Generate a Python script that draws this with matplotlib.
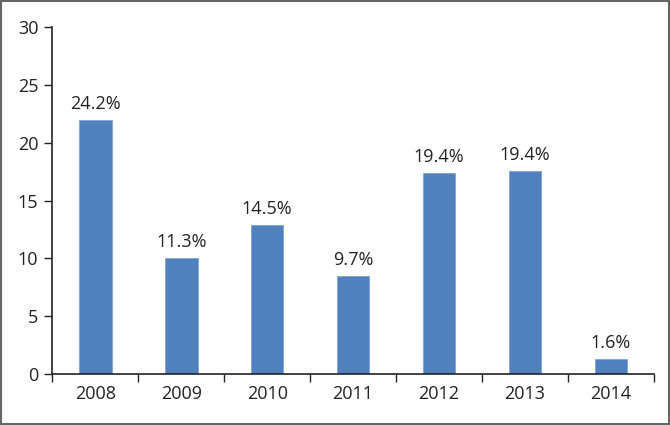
import numpy as np
import matplotlib.pyplot as plt
from matplotlib.patches import Rectangle

# Data
years = ['2008', '2009', '2010', '2011', '2012', '2013', '2014']
values = [22.0, 10.0, 12.9, 8.5, 17.4, 17.6, 1.3]
labels = ['24.2%', '11.3%', '14.5%', '9.7%', '19.4%', '19.4%', '1.6%']

plt.rcParams['font.family'] = ['Open Sans', 'DejaVu Sans']

fig = plt.figure(figsize=(6.7, 4.25), dpi=100)
ax = fig.add_axes([0.078, 0.12, 0.898, 0.816])

x = np.arange(len(years))
bars = ax.bar(x, values, width=0.38, color='#4F81BD', edgecolor='#7FA3D6', linewidth=0.6)

for rect, lab in zip(bars, labels):
    ax.text(rect.get_x() + rect.get_width() / 2, rect.get_height() + 0.6, lab,
            ha='center', va='bottom', fontsize=13, color='#222222')

ax.set_xlim(-0.5, len(years) - 0.5)
ax.set_ylim(0, 30)
ax.set_yticks(range(0, 31, 5))

# boundary ticks on the x axis, labels at category centers
ax.set_xticks(np.arange(-0.5, len(years), 1.0))
ax.set_xticklabels([])
ax.set_xticks(x, minor=True)
ax.set_xticklabels(years, minor=True)
ax.tick_params(axis='x', which='major', length=6, width=1, color='#222222', direction='out')
ax.tick_params(axis='x', which='minor', length=0, pad=8, labelsize=13, labelcolor='#222222')
ax.tick_params(axis='y', length=6, width=1, color='#222222', labelsize=13, labelcolor='#222222', pad=4)

for side in ['top', 'right']:
    ax.spines[side].set_visible(False)
for side in ['left', 'bottom']:
    ax.spines[side].set_color('#222222')
    ax.spines[side].set_linewidth(1.2)

# gray frame around the whole figure
fig.patches.append(Rectangle((0.002, 0.003), 0.996, 0.994, transform=fig.transFigure,
                             fill=False, edgecolor='#666666', linewidth=1.5))

fig.savefig('out.png', dpi=100)
